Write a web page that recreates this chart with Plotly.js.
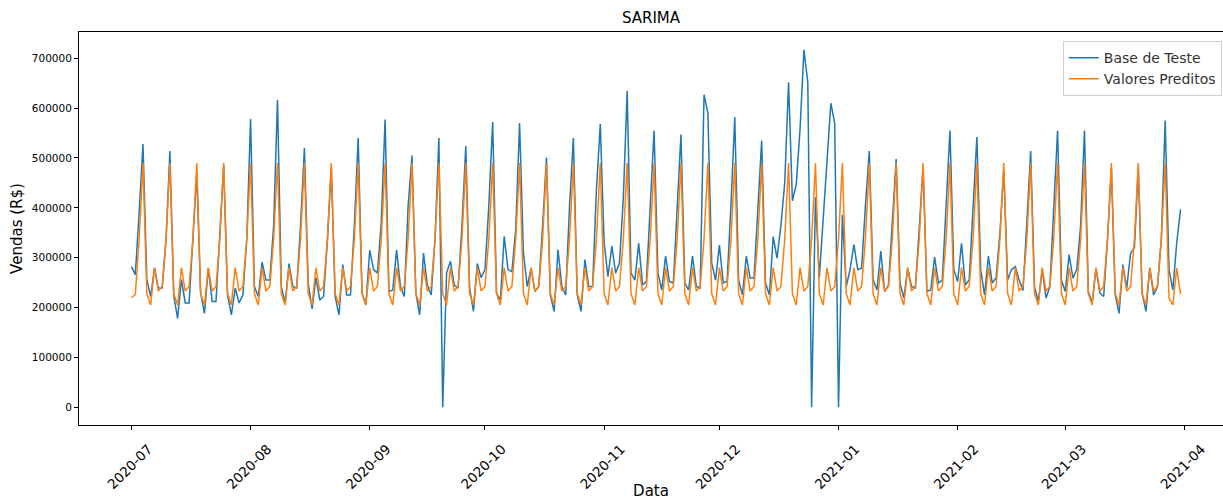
<!DOCTYPE html>
<html>
<head>
<meta charset="utf-8">
<script src="https://cdn.plot.ly/plotly-3.0.1.min.js"></script>
<style>
  html, body { margin: 0; padding: 0; background: #fff; overflow: hidden; }
  #chart { width: 1223px; height: 500px; }
</style>
</head>
<body>
<div id="chart"></div>
<script>
// Daily series starting on this date (one value per day)
const startDate = '2020-07-01';

// Observed daily sales (test set), rows of 7 days: Wed..Tue
const baseTeste = [
  282000, 266000, 390000, 528000, 256000, 222000, 279000,
  239000, 239000, 336000, 514000, 225000, 178000, 256000,
  209000, 209000, 340000, 470000, 229000, 188000, 279000,
  212000, 212000, 340000, 485000, 225000, 185000, 239000,
  209000, 225000, 336000, 578000, 242000, 222000, 291000,
  255000, 255000, 364000, 617000, 242000, 209000, 288000,
  242000, 239000, 364000, 520000, 249000, 197000, 260000,
  215000, 222000, 336000, 480000, 222000, 185000, 286000,
  225000, 225000, 364000, 540000, 229000, 205000, 315000,
  276000, 269000, 370000, 577000, 232000, 235000, 315000,
  242000, 222000, 404000, 505000, 229000, 185000, 309000,
  245000, 225000, 336000, 540000, 0, 269000, 293000,
  245000, 239000, 364000, 524000, 239000, 192000, 288000,
  260000, 276000, 404000, 572000, 229000, 215000, 343000,
  276000, 272000, 357000, 570000, 309000, 242000, 279000,
  232000, 242000, 364000, 501000, 225000, 192000, 316000,
  242000, 225000, 404000, 540000, 225000, 192000, 296000,
  242000, 242000, 437000, 568000, 330000, 262000, 323000,
  269000, 289000, 420000, 635000, 269000, 255000, 329000,
  245000, 252000, 404000, 555000, 269000, 235000, 303000,
  252000, 249000, 404000, 547000, 249000, 235000, 303000,
  242000, 239000, 627000, 590000, 289000, 255000, 325000,
  249000, 252000, 404000, 582000, 255000, 225000, 303000,
  259000, 259000, 404000, 535000, 249000, 225000, 342000,
  299000, 364000, 450000, 652000, 414000, 447000, 560000,
  717000, 652000, 0, 421000, 260000, 380000, 500000,
  610000, 570000, 0, 386000, 242000, 276000, 326000,
  276000, 279000, 404000, 514000, 255000, 235000, 313000,
  232000, 245000, 364000, 498000, 249000, 219000, 279000,
  242000, 239000, 364000, 480000, 232000, 235000, 301000,
  249000, 255000, 404000, 555000, 276000, 252000, 329000,
  245000, 255000, 404000, 542000, 276000, 225000, 303000,
  249000, 259000, 350000, 475000, 255000, 276000, 282000,
  255000, 234000, 370000, 514000, 242000, 212000, 276000,
  219000, 242000, 390000, 555000, 255000, 232000, 306000,
  259000, 276000, 364000, 555000, 232000, 209000, 279000,
  229000, 222000, 336000, 480000, 225000, 188000, 286000,
  239000, 309000, 320000, 480000, 229000, 192000, 279000,
  225000, 242000, 336000, 575000, 276000, 235000, 329000,
  397000
];

// SARIMA predictions for the same days, rows of 7 days: Wed..Tue
const valoresPreditos = [
  220000, 226000, 337000, 490000, 228000, 205000, 280000,
  233000, 242000, 337000, 490000, 228000, 205000, 280000,
  233000, 242000, 337000, 490000, 228000, 205000, 280000,
  233000, 242000, 337000, 490000, 228000, 205000, 280000,
  233000, 242000, 337000, 490000, 228000, 205000, 280000,
  233000, 242000, 337000, 490000, 228000, 205000, 280000,
  233000, 242000, 337000, 490000, 228000, 205000, 280000,
  233000, 242000, 337000, 490000, 228000, 205000, 280000,
  233000, 242000, 337000, 490000, 228000, 205000, 280000,
  233000, 242000, 337000, 490000, 228000, 205000, 280000,
  233000, 242000, 337000, 490000, 228000, 205000, 280000,
  233000, 242000, 337000, 490000, 228000, 205000, 280000,
  233000, 242000, 337000, 490000, 228000, 205000, 280000,
  233000, 242000, 337000, 490000, 228000, 205000, 280000,
  233000, 242000, 337000, 490000, 228000, 205000, 280000,
  233000, 242000, 337000, 490000, 228000, 205000, 280000,
  233000, 242000, 337000, 490000, 228000, 205000, 280000,
  233000, 242000, 337000, 490000, 228000, 205000, 280000,
  233000, 242000, 337000, 490000, 228000, 205000, 280000,
  233000, 242000, 337000, 490000, 228000, 205000, 280000,
  233000, 242000, 337000, 490000, 228000, 205000, 280000,
  233000, 242000, 337000, 490000, 228000, 205000, 280000,
  233000, 242000, 337000, 490000, 228000, 205000, 280000,
  233000, 242000, 337000, 490000, 228000, 205000, 280000,
  233000, 242000, 337000, 490000, 228000, 205000, 280000,
  233000, 242000, 337000, 490000, 228000, 205000, 280000,
  233000, 242000, 337000, 490000, 228000, 205000, 280000,
  233000, 242000, 337000, 490000, 228000, 205000, 280000,
  233000, 242000, 337000, 490000, 228000, 205000, 280000,
  233000, 242000, 337000, 490000, 228000, 205000, 280000,
  233000, 242000, 337000, 490000, 228000, 205000, 280000,
  233000, 242000, 337000, 490000, 228000, 205000, 280000,
  233000, 242000, 337000, 490000, 228000, 205000, 280000,
  233000, 242000, 337000, 490000, 228000, 205000, 280000,
  233000, 242000, 337000, 490000, 228000, 205000, 280000,
  233000, 242000, 337000, 490000, 228000, 205000, 280000,
  233000, 242000, 337000, 490000, 228000, 205000, 280000,
  233000, 242000, 337000, 490000, 228000, 205000, 280000,
  233000, 242000, 337000, 490000, 219000, 205000, 279000,
  227000
];

// Month ticks on the date axis
const monthTicks = ['2020-07-01', '2020-08-01', '2020-09-01', '2020-10-01', '2020-11-01',
                    '2020-12-01', '2021-01-01', '2021-02-01', '2021-03-01', '2021-04-01'];
const monthLabels = ['2020-07', '2020-08', '2020-09', '2020-10', '2020-11',
                     '2020-12', '2021-01', '2021-02', '2021-03', '2021-04'];

// Sales axis ticks
const salesTicks = [0, 100000, 200000, 300000, 400000, 500000, 600000, 700000];
const salesLabels = ['0', '100000', '200000', '300000', '400000', '500000', '600000', '700000'];

// One calendar date per observation
function dailyDates(start, n) {
  const out = [];
  const t0 = Date.parse(start + 'T00:00:00Z');
  for (let i = 0; i < n; i++) {
    out.push(new Date(t0 + i * 86400000).toISOString().slice(0, 10));
  }
  return out;
}
const dates = dailyDates(startDate, baseTeste.length);

const font = 'DejaVu Sans, Liberation Sans, sans-serif';

const traces = [
  {
    x: dates, y: baseTeste, type: 'scatter', mode: 'lines',
    name: 'Base de Teste',
    line: { color: '#1f77b4', width: 1.5 }
  },
  {
    x: dates, y: valoresPreditos, type: 'scatter', mode: 'lines',
    name: 'Valores Preditos',
    line: { color: '#ff7f0e', width: 1.5 }
  }
];

const layout = {
  width: 1223, height: 500,
  margin: { l: 79, r: 0, t: 32, b: 75, pad: 0 },
  paper_bgcolor: '#ffffff', plot_bgcolor: '#ffffff',
  font: { family: font, color: '#000000' },
  showlegend: true,
  title: {
    text: 'SARIMA',
    font: { family: font, size: 15, color: '#000000' },
    xref: 'paper', x: 0.5, xanchor: 'center',
    y: 1 - 18 / 500, yanchor: 'middle'
  },
  xaxis: {
    type: 'date',
    range: ['2020-06-17 08:24', '2021-04-11 01:12'],
    tickmode: 'array', tickvals: monthTicks, ticktext: monthLabels,
    tickangle: -45,
    ticklabelshift: 17, ticklabelstandoff: 6,
    tickfont: { family: font, size: 13.5, color: '#000000' },
    ticks: 'outside', ticklen: 4, tickwidth: 1, tickcolor: '#000000',
    showline: true, linecolor: '#000000', linewidth: 1, mirror: true,
    showgrid: false, zeroline: false,
    title: { text: 'Data', font: { family: font, size: 15, color: '#000000' }, standoff: 2 }
  },
  yaxis: {
    range: [-35850, 752850],
    tickmode: 'array', tickvals: salesTicks, ticktext: salesLabels,
    tickfont: { family: font, size: 10.5, color: '#000000' },
    ticks: 'outside', ticklen: 4, tickwidth: 1, tickcolor: '#000000',
    showline: true, linecolor: '#000000', linewidth: 1, mirror: true,
    showgrid: false, zeroline: false,
    title: { text: 'Vendas (R$)', font: { family: font, size: 15, color: '#000000' }, standoff: 5 }
  },
  legend: {
    x: 0.999, xanchor: 'right', y: 0.977, yanchor: 'top',
    bgcolor: 'rgba(255,255,255,0.85)', bordercolor: '#d0d0d0', borderwidth: 1,
    font: { family: font, size: 14, color: '#333333' },
    itemwidth: 30, tracegroupgap: 2
  }
};

Plotly.newPlot('chart', traces, layout, { displayModeBar: false, staticPlot: true });
</script>
</body>
</html>
